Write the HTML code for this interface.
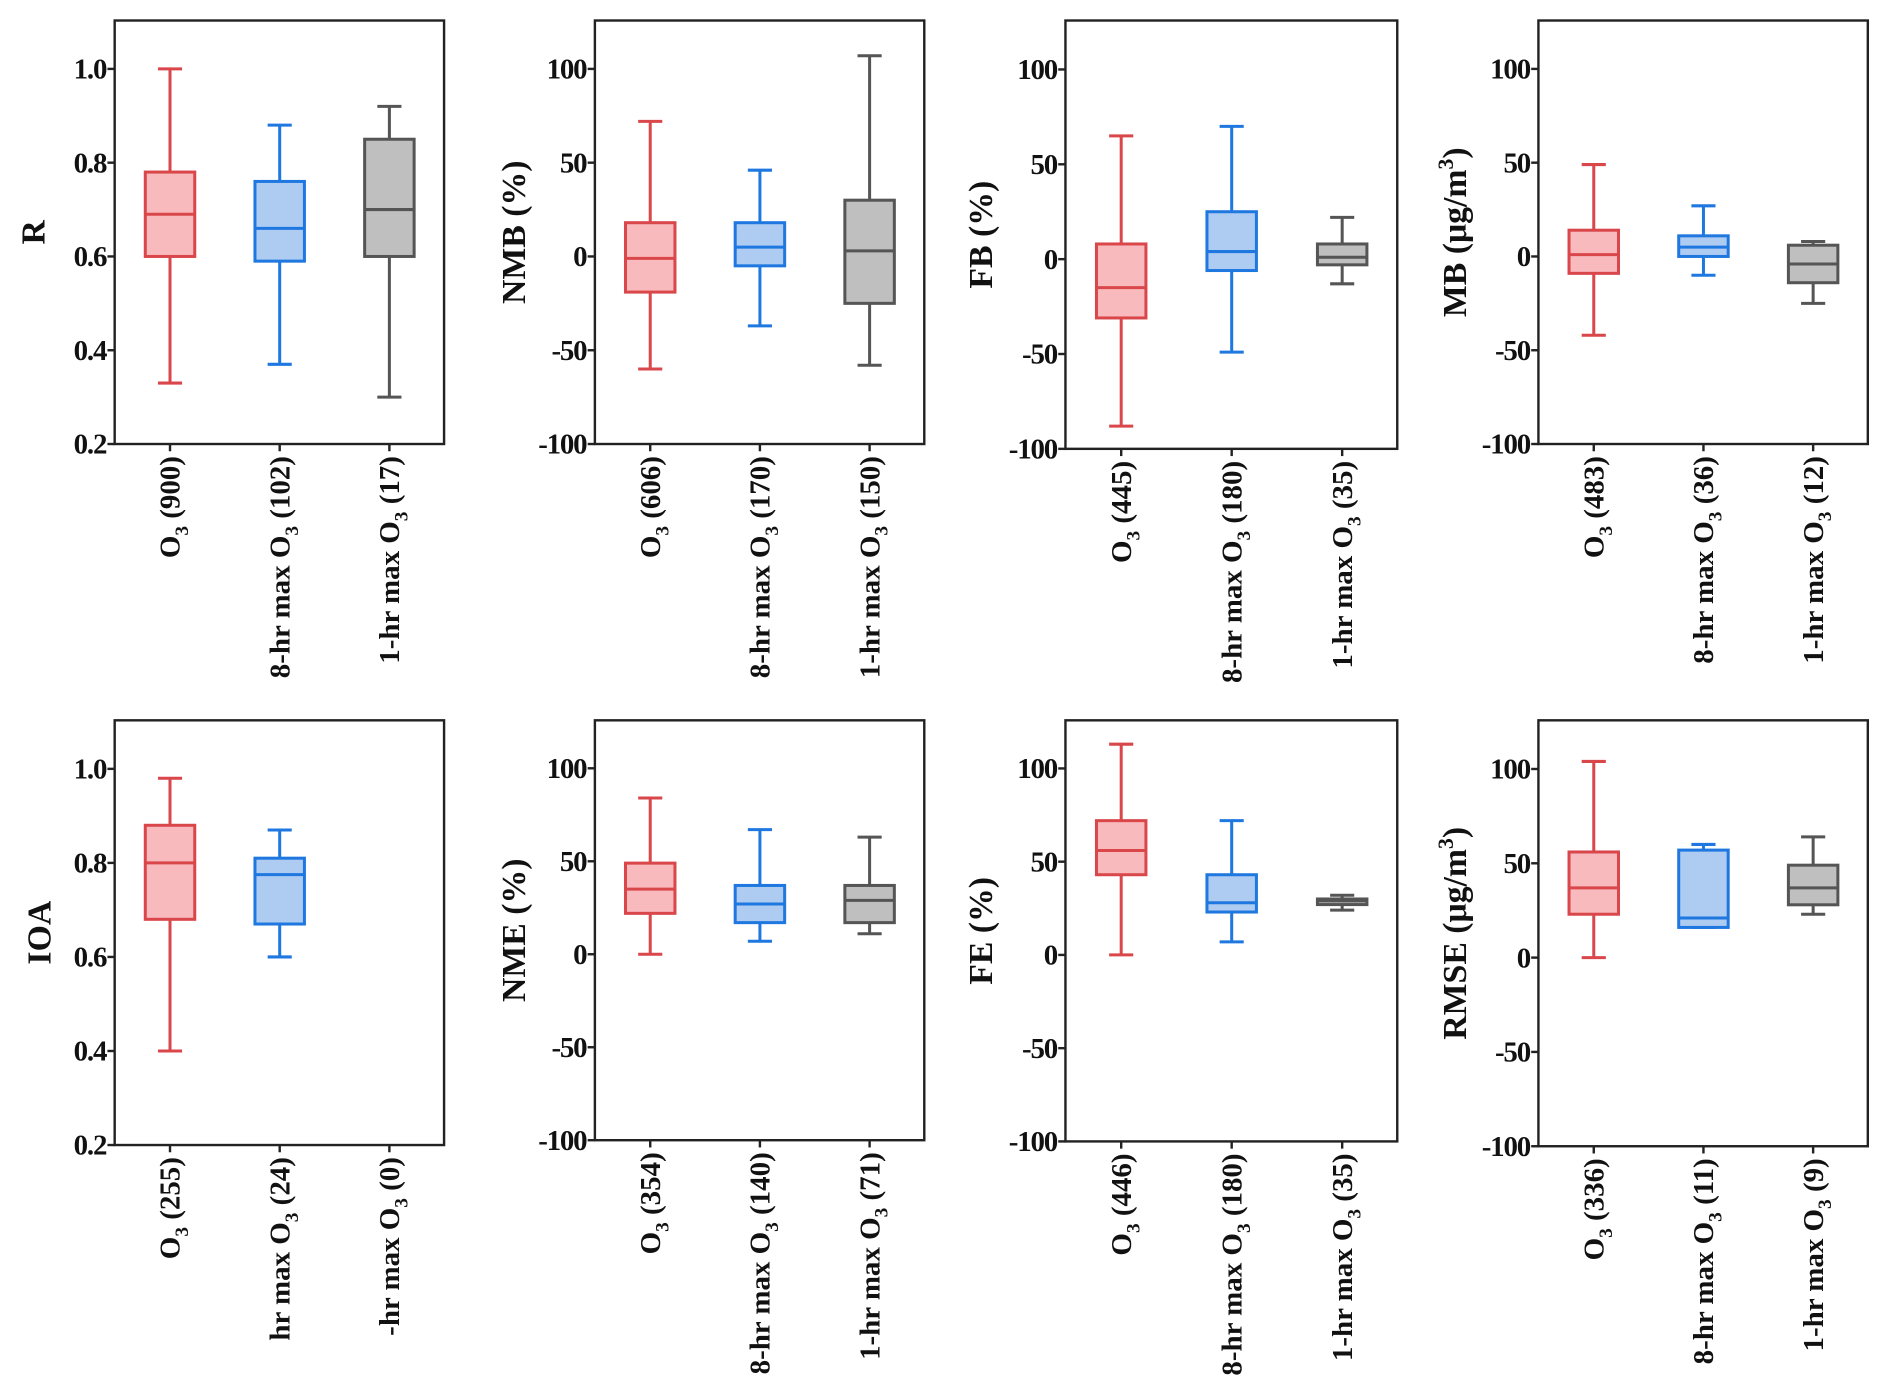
<!DOCTYPE html>
<html><head><meta charset="utf-8"><style>
html,body{margin:0;padding:0;background:#fff;}
svg{display:block;}
text{font-family:"Liberation Serif","Times New Roman",serif;font-weight:bold;fill:#111;}
</style></head><body>
<svg id="fig" width="1892" height="1396" viewBox="0 0 1568 1157" xmlns="http://www.w3.org/2000/svg"></svg>
<script>
// ---- data (whisker low, q1, median, q3, whisker high) ----
const panelTitles = ["R","NMB (%)","FB (%)","MB (μg/m3)","IOA","NME (%)","FE (%)","RMSE (μg/m3)"];
const panelTicks = [[0.2,0.4,0.6,0.8,1.0],[-100,-50,0,50,100],[-100,-50,0,50,100],[-100,-50,0,50,100],
  [0.2,0.4,0.6,0.8,1.0],[-100,-50,0,50,100],[-100,-50,0,50,100],[-100,-50,0,50,100]];
const tickLabels = [["0.2","0.4","0.6","0.8","1.0"],["-100","-50","0","50","100"]];
const redStats = [[0.33,0.60,0.69,0.78,1.00],[-60,-19,-1,18,72],[-88,-31,-15,8,65],[-42,-9,1,14,49],
  [0.40,0.68,0.80,0.88,0.98],[0,22,35,49,84],[0,43,56,72,113],[0,23,37,56,104]];
const blueStats = [[0.37,0.59,0.66,0.76,0.88],[-37,-5,5,18,46],[-49,-6,4,25,70],[-10,0,5,11,27],
  [0.60,0.67,0.775,0.81,0.87],[7,17,27,37,67],[7,23,28,43,72],[16,16,21,57,60]];
const grayStats = [[0.30,0.60,0.70,0.85,0.92],[-58,-25,3,30,107],[-13,-3,1,8,22],[-25,-14,-4,6,8],
  null,[11,17,29,37,63],[24,27,29,30,32],[23,28,37,49,64]];
const catCounts = [["900","102","17"],["606","170","150"],["445","180","35"],["483","36","12"],
  ["255","24","0"],["354","140","71"],["446","180","35"],["336","11","9"]];

// layout
const panelBoxes = [[95,17,368,368],[493,17,766,368],[883,17,1158,372],[1275,17,1548,368],
  [95,597,368,949],[493,597,766,945],[883,597,1158,946],[1275,597,1548,950]];
const titleX = [27,425,812,1205,32,425,812,1205];
const styles = [{s:"#d9474b",f:"#f9babd"},{s:"#1f78e0",f:"#aecbf2"},{s:"#555555",f:"#bfbfbf"}];
const NS="http://www.w3.org/2000/svg";
const svg=document.getElementById('fig');
function mk(tag,attrs,parent){const e=document.createElementNS(NS,tag);for(const k in attrs)e.setAttribute(k,attrs[k]);(parent||svg).appendChild(e);return e;}

for(let p=0;p<8;p++){
  const [x0,y0,x1,y1]=panelBoxes[p];
  const ticks=panelTicks[p];
  const lo=ticks[0],span=ticks[ticks.length-1]-ticks[0];
  const hi=lo+span*1.129;
  const yScale=v=>y1-(v-lo)/(hi-lo)*(y1-y0);
  const xw=x1-x0;
  const xScale=i=>x0+xw*(0.168+0.333*i);
  const g=mk('g',{});
  
  
  const frame=mk('rect',{x:x0,y:y0,width:xw,height:y1-y0,fill:'none',stroke:'#222','stroke-width':2},g);
  
  
  const labs=tickLabels[p%4===0?0:1];
  ticks.forEach((t,i)=>{
    const y=yScale(t);
    mk('line',{x1:x0-6,x2:x0,y1:y,y2:y,stroke:'#222','stroke-width':2},g);
    const tx=mk('text',{x:x0-7,y:y+8,'text-anchor':'end','font-size':24,'letter-spacing':-1},g);
    tx.textContent=labs[i];
    
    
  });
  // y title
  const tt=mk('text',{transform:`translate(${titleX[p]+10},${(y0+y1)/2}) rotate(-90)`,'text-anchor':'middle','font-size':28},g);
  const t=panelTitles[p];
  if(t.endsWith('m3)')){tt.textContent=t.replace('m3)','m');const sp=mk('tspan',{dy:-11,'font-size':18},tt);sp.textContent='3';const sp2=mk('tspan',{dy:11},tt);sp2.textContent=')';}
  else tt.textContent=t;
  
  
  const sets=[redStats[p],blueStats[p],grayStats[p]];
  for(let c=0;c<3;c++){
    const cx=xScale(c);
    mk('line',{x1:cx,x2:cx,y1:y1,y2:y1+6,stroke:'#222','stroke-width':2},g);
    let prefix=["","8-hr max ","1-hr max "][c];
    if(p===4&&c===1)prefix="hr max ";
    if(p===4&&c===2)prefix="-hr max ";
    const lt=mk('text',{transform:`translate(${cx+8},${y1+10}) rotate(-90)`,'text-anchor':'end','font-size':24},g);
    const a=mk('tspan',{},lt);a.textContent=prefix+'O';
    const b=mk('tspan',{dy:7,'font-size':16},lt);b.textContent='3';
    const d=mk('tspan',{dy:-7},lt);d.textContent=' ('+catCounts[p][c]+')';
    
    
    const st=sets[c];
    if(!st)continue;
    const col=styles[c];
    const bg=mk('g',{stroke:col.s,'stroke-width':2.5,fill:'none'},g);
    
    
    const bw=41,cw=20;
    mk('line',{x1:cx,x2:cx,y1:yScale(st[0]),y2:yScale(st[1])},bg);
    mk('line',{x1:cx,x2:cx,y1:yScale(st[3]),y2:yScale(st[4])},bg);
    mk('line',{x1:cx-cw/2,x2:cx+cw/2,y1:yScale(st[0]),y2:yScale(st[0])},bg);
    mk('line',{x1:cx-cw/2,x2:cx+cw/2,y1:yScale(st[4]),y2:yScale(st[4])},bg);
    mk('rect',{x:cx-bw/2,y:yScale(st[3]),width:bw,height:yScale(st[1])-yScale(st[3]),fill:col.f},bg);
    mk('line',{x1:cx-bw/2,x2:cx+bw/2,y1:yScale(st[2]),y2:yScale(st[2])},bg);
  }
}
</script>
</body></html>
